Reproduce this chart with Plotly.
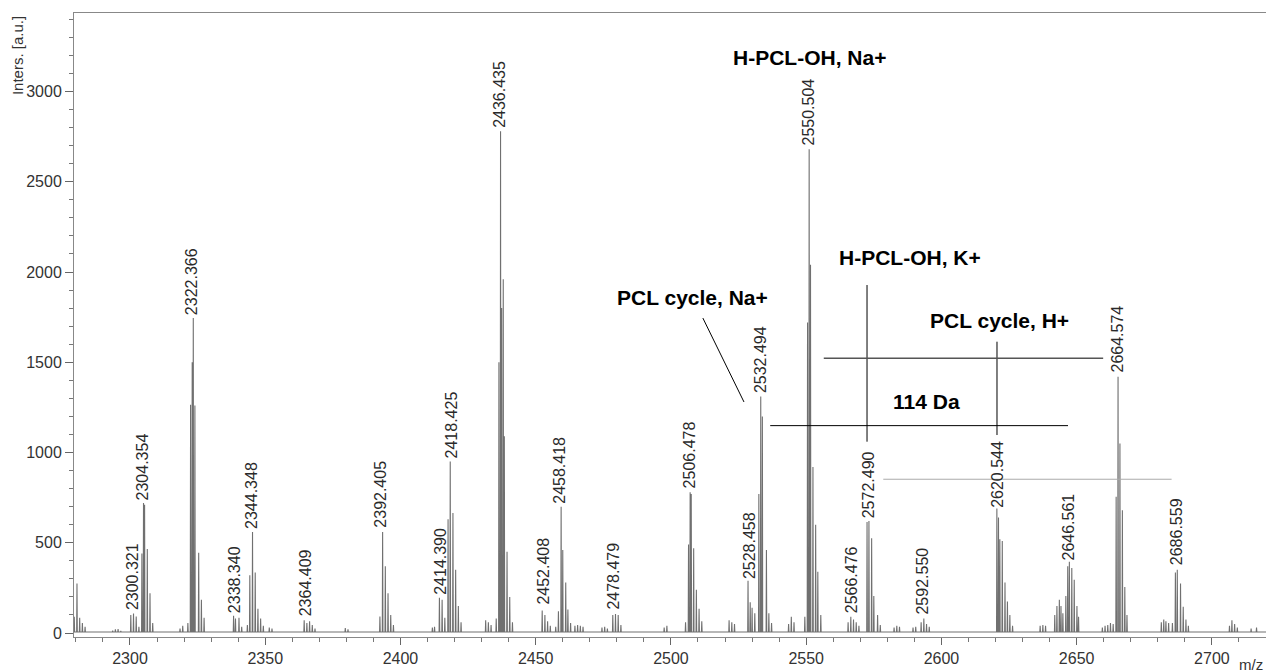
import plotly.graph_objects as go

# ---------------- data: isotope clusters (m/z, intensity) ----------------
c2280_mz = [2279.4, 2280.4, 2281.4, 2282.4, 2283.4]
c2280_int = [90, 275, 85, 55, 35]
c2294_mz = [2293.6, 2294.6, 2295.6, 2296.6]
c2294_int = [14, 20, 22, 12]
c2300_mz = [2300.3, 2301.3, 2302.3, 2303.3]
c2300_int = [100, 108, 92, 35]
c2304_mz = [2304.4, 2305.0, 2305.4, 2306.4, 2307.4, 2308.4]
c2304_int = [440, 720, 710, 465, 220, 55]
c2318_mz = [2318.5, 2319.5]
c2318_int = [25, 40]
c2322_mz = [2321.4, 2322.4, 2323.0, 2323.4, 2324.0, 2325.4, 2326.4, 2327.4]
c2322_int = [55, 1265, 1500, 1745, 1260, 445, 185, 85]
c2338_mz = [2338.3, 2339.0, 2340.3, 2341.3]
c2338_int = [95, 80, 85, 35]
c2344_mz = [2343.4, 2344.3, 2345.3, 2346.3, 2347.3, 2348.3, 2349.3]
c2344_int = [45, 320, 560, 335, 135, 80, 40]
c2352_mz = [2351.5, 2352.5]
c2352_int = [30, 25]
c2364_mz = [2364.4, 2365.4, 2366.4, 2367.4, 2368.4]
c2364_int = [70, 55, 65, 45, 25]
c2380_mz = [2379.6, 2380.6]
c2380_int = [28, 20]
c2392_mz = [2392.4, 2393.4, 2394.4, 2395.4, 2396.4, 2397.4]
c2392_int = [92, 560, 370, 220, 100, 45]
c2414_mz = [2411.8, 2412.6, 2414.4, 2415.4, 2416.4]
c2414_int = [30, 35, 195, 185, 85]
c2418_mz = [2417.6, 2418.4, 2419.4, 2420.4, 2421.4, 2422.4]
c2418_int = [630, 950, 665, 350, 150, 60]
c2432_mz = [2431.5, 2432.5, 2433.5]
c2432_int = [70, 60, 45]
c2436_mz = [2435.4, 2436.4, 2437.0, 2437.4, 2438.0, 2438.4, 2439.4, 2440.4, 2441.4]
c2436_int = [80, 1500, 2780, 1800, 1960, 1090, 450, 200, 60]
c2452_mz = [2452.4, 2453.4, 2454.4, 2455.4]
c2452_int = [125, 100, 65, 40]
c2458_mz = [2457.4, 2458.4, 2459.4, 2460.0, 2461.1, 2461.9, 2462.9]
c2458_int = [35, 120, 700, 460, 280, 130, 55]
c2465_mz = [2464.5, 2465.5, 2466.5, 2467.5]
c2465_int = [40, 45, 40, 35]
c2475_mz = [2474.5, 2475.5, 2476.5]
c2475_int = [30, 35, 25]
c2478_mz = [2478.5, 2479.5, 2480.5, 2481.5]
c2478_int = [100, 105, 100, 45]
c2498_mz = [2497.5, 2498.5]
c2498_int = [30, 40]
c2506_mz = [2505.4, 2506.5, 2507.1, 2507.5, 2508.4, 2509.4, 2510.4, 2511.4]
c2506_int = [60, 490, 780, 770, 470, 240, 135, 65]
c2522_mz = [2521.5, 2522.5, 2523.5]
c2522_int = [70, 60, 50]
c2528_mz = [2528.5, 2529.3, 2530.0, 2531.0]
c2528_int = [290, 170, 140, 110]
c2532_mz = [2532.5, 2533.2, 2533.8, 2535.3, 2536.2, 2537.2]
c2532_int = [770, 1310, 1200, 460, 110, 55]
c2544_mz = [2543.5, 2544.5, 2545.5]
c2544_int = [50, 90, 60]
c2550_mz = [2549.5, 2550.5, 2551.1, 2551.6, 2552.5, 2553.5, 2554.3, 2555.4]
c2550_int = [90, 1720, 2680, 2040, 920, 600, 340, 100]
c2566_mz = [2565.5, 2566.5, 2567.5, 2568.5, 2569.5]
c2566_int = [60, 90, 75, 60, 40]
c2572_mz = [2572.5, 2573.2, 2574.2, 2575.0, 2576.4, 2577.4]
c2572_int = [615, 620, 525, 205, 100, 45]
c2583_mz = [2582.5, 2583.5, 2584.5]
c2583_int = [30, 40, 35]
c2592_mz = [2589.5, 2590.5, 2592.5, 2593.5, 2594.5, 2595.5]
c2592_int = [30, 35, 60, 80, 50, 35]
c2620_mz = [2620.5, 2621.1, 2621.6, 2622.5, 2623.5, 2624.4, 2625.3, 2626.3]
c2620_int = [690, 640, 520, 510, 280, 175, 100, 40]
c2637_mz = [2636.5, 2637.5, 2638.5]
c2637_int = [40, 45, 40]
c2646_mz = [2641.9, 2642.7, 2643.6, 2644.2, 2644.9, 2646.0, 2646.7, 2647.3, 2648.2, 2649.1, 2650.1, 2650.7]
c2646_int = [100, 150, 185, 150, 110, 205, 370, 395, 360, 295, 150, 90]
c2660_mz = [2659.5, 2660.5, 2661.5, 2662.5]
c2660_int = [30, 40, 45, 55]
c2664_mz = [2663.5, 2664.6, 2665.3, 2666.0, 2666.9, 2667.8, 2668.6]
c2664_int = [50, 755, 1420, 1050, 680, 255, 100]
c2682_mz = [2681.3, 2682.2, 2683.0, 2684.0]
c2682_int = [60, 75, 65, 55]
c2686_mz = [2685.4, 2686.5, 2687.2, 2688.4, 2689.4, 2690.4, 2691.3]
c2686_int = [55, 335, 350, 275, 145, 75, 40]
c2708_mz = [2706.5, 2707.4, 2708.4, 2709.4]
c2708_int = [40, 70, 50, 30]
c2715_mz = [2714.5, 2716.5]
c2715_int = [25, 30]

# peak labels (m/z text and the intensity at which each label sits)
label_mz = [2300.321, 2304.354, 2322.366, 2338.340, 2344.348, 2364.409, 2392.405,
            2414.390, 2418.425, 2436.435, 2452.408, 2458.418, 2478.479, 2506.478,
            2528.458, 2532.494, 2550.504, 2566.476, 2572.490, 2592.550, 2620.544,
            2646.561, 2664.574, 2686.559]
label_int = [118, 725, 1750, 100, 568, 80, 575,
             200, 955, 2785, 145, 705, 120, 790,
             290, 1320, 2690, 100, 622, 90, 685,
             390, 1430, 365]

# axis ticks
x_ticks = [2300, 2350, 2400, 2450, 2500, 2550, 2600, 2650, 2700]
y_ticks = [0, 500, 1000, 1500, 2000, 2500, 3000]

# ---------------- build the spectrum trace ----------------
clusters = [
    (c2280_mz, c2280_int), (c2294_mz, c2294_int), (c2300_mz, c2300_int), (c2304_mz, c2304_int),
    (c2318_mz, c2318_int), (c2322_mz, c2322_int), (c2338_mz, c2338_int), (c2344_mz, c2344_int),
    (c2352_mz, c2352_int), (c2364_mz, c2364_int), (c2380_mz, c2380_int), (c2392_mz, c2392_int),
    (c2414_mz, c2414_int), (c2418_mz, c2418_int), (c2432_mz, c2432_int), (c2436_mz, c2436_int),
    (c2452_mz, c2452_int), (c2458_mz, c2458_int), (c2465_mz, c2465_int), (c2475_mz, c2475_int),
    (c2478_mz, c2478_int), (c2498_mz, c2498_int), (c2506_mz, c2506_int), (c2522_mz, c2522_int),
    (c2528_mz, c2528_int), (c2532_mz, c2532_int), (c2544_mz, c2544_int), (c2550_mz, c2550_int),
    (c2566_mz, c2566_int), (c2572_mz, c2572_int), (c2583_mz, c2583_int), (c2592_mz, c2592_int),
    (c2620_mz, c2620_int), (c2637_mz, c2637_int), (c2646_mz, c2646_int), (c2660_mz, c2660_int),
    (c2664_mz, c2664_int), (c2682_mz, c2682_int), (c2686_mz, c2686_int), (c2708_mz, c2708_int),
    (c2715_mz, c2715_int),
]
sticks = sorted((m, h) for mzs, ints in clusters for m, h in zip(mzs, ints))

BASE = 6
HALF = 0.12
xs, ys = [2279.0], [BASE]
for m, h in sticks:
    xs += [m - HALF, m, m + HALF]
    ys += [BASE, h, BASE]
xs.append(2721.0)
ys.append(BASE)

FONT = "Liberation Sans, Arial, sans-serif"

fig = go.Figure()
fig.add_trace(go.Scatter(x=xs, y=ys, mode="lines",
                         line=dict(color="#707070", width=1.1),
                         hoverinfo="skip", showlegend=False))

annotations = []
for m, h in zip(label_mz, label_int):
    annotations.append(dict(x=m, y=h, xref="x", yref="y", text=f"{m:.3f}",
                            textangle=-90, showarrow=False, xanchor="center",
                            yanchor="bottom", xshift=1, yshift=0,
                            font=dict(family=FONT, size=16, color="#2a2a2a")))

bold = dict(family=FONT, size=21, color="#000000")
annotations += [
    dict(x=2551.4, y=3191, text="<b>H-PCL-OH, Na+</b>", showarrow=False, font=bold),
    dict(x=2588.4, y=2078, text="<b>H-PCL-OH, K+</b>", showarrow=False, font=bold),
    dict(x=2507.8, y=1857, text="<b>PCL cycle, Na+</b>", showarrow=False, font=bold),
    dict(x=2621.3, y=1734, text="<b>PCL cycle, H+</b>", showarrow=False, font=bold),
    dict(x=2594.3, y=1280, text="<b>114 Da</b>", showarrow=False, font=bold),
]
for a in annotations[-5:]:
    a.update(xref="x", yref="y", xanchor="center", yanchor="middle")

annotations.append(dict(x=-0.0478, y=0.931, xref="paper", yref="paper", text="Inters. [a.u.]",
                        textangle=-90, showarrow=False, xanchor="center", yanchor="middle",
                        font=dict(family=FONT, size=15, color="#333333")))
annotations.append(dict(x=0.999, y=-0.0433, xref="paper", yref="paper", text="m/z",
                        showarrow=False, xanchor="right", yanchor="middle",
                        font=dict(family=FONT, size=15, color="#333333")))

shapes = [
    dict(type="line", xref="x", yref="y", x0=2572.49, x1=2572.49, y0=1928, y1=1060,
         line=dict(color="#000000", width=1)),
    dict(type="line", xref="x", yref="y", x0=2620.544, x1=2620.544, y0=1614, y1=1097,
         line=dict(color="#000000", width=1)),
    dict(type="line", xref="x", yref="y", x0=2556.5, x1=2659.8, y0=1522, y1=1522,
         line=dict(color="#555555", width=1.5)),
    dict(type="line", xref="x", yref="y", x0=2536.7, x1=2646.8, y0=1149, y1=1149,
         line=dict(color="#000000", width=1)),
    dict(type="line", xref="x", yref="y", x0=2578.5, x1=2685.1, y0=852, y1=852,
         line=dict(color="#aaaaaa", width=1)),
    dict(type="line", xref="x", yref="y", x0=2511.8, x1=2527.0, y0=1745, y1=1280,
         line=dict(color="#000000", width=1)),
]

fig.update_layout(
    width=1266, height=672,
    margin=dict(l=74, r=0, t=13, b=35),
    plot_bgcolor="white", paper_bgcolor="white",
    annotations=annotations, shapes=shapes,
    font=dict(family=FONT, size=16, color="#333333"),
    showlegend=False,
)
fig.update_xaxes(range=[2279.3, 2720], tickvals=x_ticks, ticks="outside", ticklen=7,
                 tickcolor="#666666", showline=True, linecolor="#888888", linewidth=1,
                 mirror=True, showgrid=False, zeroline=False,
                 tickfont=dict(family=FONT, size=16, color="#333333"),
                 minor=dict(dtick=10, tick0=2280, ticks="outside", ticklen=4, tickcolor="#777777"))
fig.update_yaxes(range=[-22, 3435], tickvals=y_ticks, ticks="outside", ticklen=8,
                 tickcolor="#666666", showline=True, linecolor="#888888", linewidth=1,
                 showgrid=False, zeroline=False,
                 tickfont=dict(family=FONT, size=16, color="#333333"),
                 minor=dict(dtick=100, tick0=0, ticks="outside", ticklen=4, tickcolor="#777777"))

fig.write_html("out.html", config={"displayModeBar": False},
               post_script="document.body.style.margin='0';document.body.style.overflow='hidden';")
